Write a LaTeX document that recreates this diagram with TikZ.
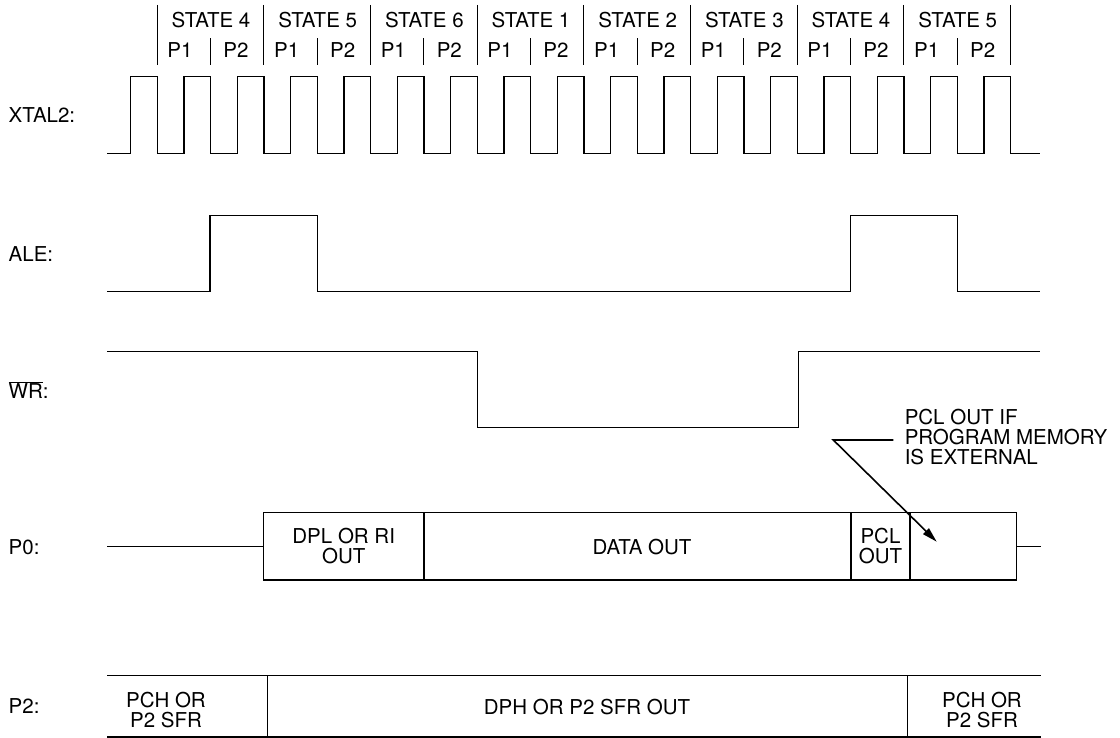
\documentclass[tikz,border=0pt]{standalone}
\usepackage{fontspec}
\setmainfont{TeX Gyre Heros}
\usepackage{tikz}
\usetikzlibrary{arrows.meta}

\begin{document}
\begin{tikzpicture}[x=1pt,y=-1pt,line width=1.5pt,
  every node/.append style={font=\fontsize{20.5}{20}\selectfont},
  signame/.style={anchor=west,inner sep=0pt},
  celltext/.style={align=center,inner sep=0pt},
  sep/.style={line width=1pt}]

  \useasboundingbox (0,0) rectangle (1120,738);

  % states and phases
  \foreach \s [count=\i from 0] in {4,5,6,1,2,3,4,5} {
    \node[celltext] (st\i) at ({211+106.67*\i},20.5) {STATE \s};
    \node[celltext] (pa\i) at ({180+106.67*\i},50) {P1};
    \node[celltext] (pb\i) at ({236+106.67*\i},50) {P2};
    \draw[sep] ({157.3+106.67*\i},5) -- ({157.3+106.67*\i},65);
    \draw[sep] ({210.6+106.67*\i},38.3) -- ({210.6+106.67*\i},65);
  }
  \draw[sep] (1010.7,5) -- (1010.7,65);

  % signal names
  \node[signame] (xtal) at (8,115) {XTAL2:};
  \node[signame] (ale) at (8,253.7) {ALE:};
  \node[signame] (wr) at (8,389.7) {$\overline{\mbox{WR}}$:};
  \node[signame] (pzero) at (8,546.7) {P0:};
  \node[signame] (ptwo) at (8,706.3) {P2:};

  % XTAL2
  \draw (107,153.3) foreach \k in {0,...,16} {
      -- ({130.7+\k*53.33},153.3) -- ({130.7+\k*53.33},76.7)
      -- ({157.3+\k*53.33},76.7) -- ({157.3+\k*53.33},153.3) }
    -- (1040,153.3);

  % ALE
  \draw (107,291.7) -- (210,291.7) -- (210,215.7) -- (317.3,215.7) -- (317.3,291.7)
    -- (850.6,291.7) -- (850.6,215.7) -- (957.3,215.7) -- (957.3,291.7) -- (1040,291.7);

  % WR
  \draw (107,351.7) -- (477.3,351.7) -- (477.3,427.7) -- (798.3,427.7)
    -- (798.3,351.7) -- (1040,351.7);

  % P0
  \draw (107,546.7) -- (263.3,546.7);
  \draw (263.3,512.3) rectangle (1016.7,580);
  \foreach \x in {424,851,910}
    \draw (\x,512.3) -- (\x,580);
  \draw (1016.7,546.7) -- (1040.7,546.7);
  \node[celltext] (dpl) at (343.7,546) {DPL OR RI\\OUT};
  \node[celltext] (data) at (642,546.7) {DATA OUT};
  \node[celltext] (pcl) at (880.5,546) {PCL\\OUT};

  \node[anchor=west,align=left,inner sep=0pt] (pclnote) at (904,437)
    {PCL OUT IF\\PROGRAM MEMORY\\IS EXTERNAL};
  \coordinate (pclstart) at (893.3,440);
  \coordinate (pclbend) at (833.3,440);
  \coordinate (pcltip) at (936.7,541.7);
  \draw[line width=1.6pt,-{Triangle[length=15pt,width=8pt]}]
    (pclstart) -- (pclbend) -- (pcltip);

  % P2
  \draw (107,675.7) -- (1041,675.7);
  \draw (107,736.8) -- (1041,736.8);
  \foreach \x in {267.3,907.7}
    \draw (\x,675.7) -- (\x,736.8);
  \node[celltext] (pch) at (166,710) {PCH OR\\P2 SFR};
  \node[celltext] (dph) at (587,707) {DPH OR P2 SFR OUT};
  \node[celltext] (pchb) at (982,710) {PCH OR\\P2 SFR};

\end{tikzpicture}
\end{document}
